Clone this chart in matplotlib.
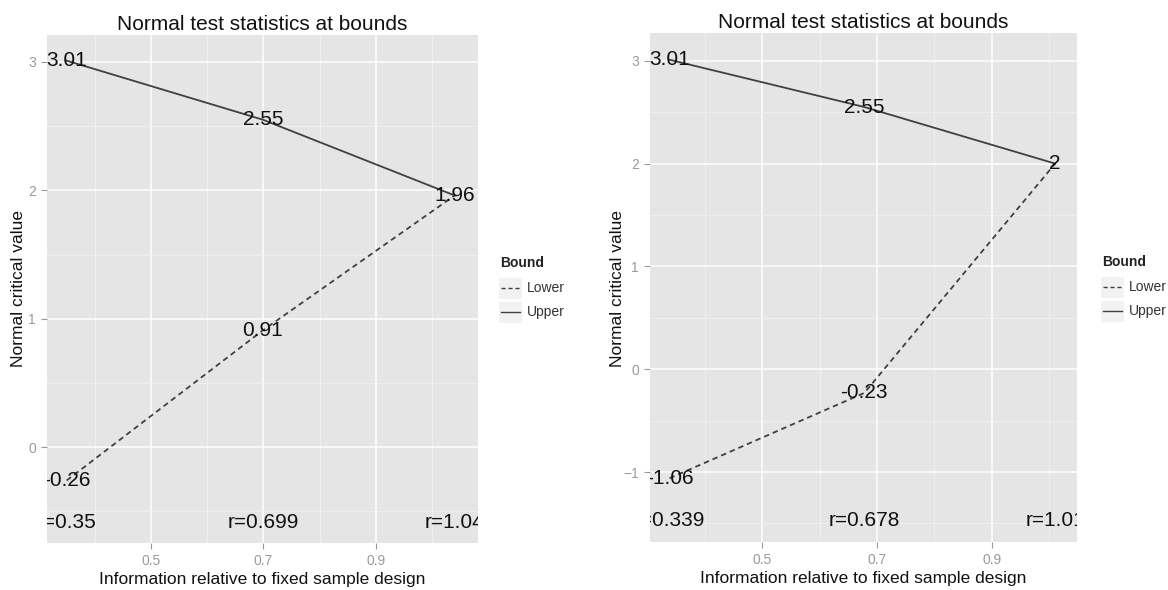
import matplotlib
matplotlib.use('Agg')
import matplotlib.pyplot as plt
from matplotlib.lines import Line2D
from matplotlib.patches import Rectangle

plt.rcParams['font.family'] = ['Liberation Sans', 'DejaVu Sans']

W, H = 1168, 590

# Left design
left_x = [0.35, 0.699, 1.04]
left_upper = [3.01, 2.55, 1.96]
left_lower = [-0.26, 0.91, 1.96]
left_r_labels = ['r=0.35', 'r=0.699', 'r=1.04']
left_upper_labels = ['3.01', '2.55', '1.96']
left_lower_labels = ['-0.26', '0.91', '1.96']
left_r_y = -0.59

# Right design
right_x = [0.339, 0.678, 1.01]
right_upper = [3.01, 2.55, 2.0]
right_lower = [-1.06, -0.23, 2.0]
right_r_labels = ['r=0.339', 'r=0.678', 'r=1.01']
right_upper_labels = ['3.01', '2.55', '2']
right_lower_labels = ['-1.06', '-0.23', '2']
right_r_y = -1.47

title = 'Normal test statistics at bounds'
xlabel = 'Information relative to fixed sample design'
ylabel = 'Normal critical value'
legend_title = 'Bound'
legend_names = ['Lower', 'Upper']

line_col = '#404040'
panel_bg = '#E5E5E5'
tick_col = '#9a9a9a'


def px(x, y):
    return x / W, 1 - y / H


def draw_panel(rect, x, upper, lower, up_lab, lo_lab, r_lab, r_y,
               xlim, ylim, yticks, yminor):
    ax = fig.add_axes(rect)
    ax.set_facecolor(panel_bg)
    for s in ax.spines.values():
        s.set_visible(False)
    ax.set_xlim(*xlim)
    ax.set_ylim(*ylim)
    ax.set_xticks([0.5, 0.7, 0.9])
    ax.set_xticks([0.4, 0.6, 0.8, 1.0], minor=True)
    ax.set_yticks(yticks)
    ax.set_yticks(yminor, minor=True)
    ax.grid(which='major', color='white', linewidth=1.1)
    ax.grid(which='minor', color='#F2F2F2', linewidth=0.6)
    ax.set_axisbelow(True)
    ax.tick_params(which='major', colors=tick_col, labelsize=10,
                   length=4, width=0.8, pad=4)
    ax.tick_params(which='minor', length=0)

    ax.plot(x, lower, color=line_col, lw=1.3, ls=(0, (3, 2.2)))
    ax.plot(x, upper, color=line_col, lw=1.3, ls='-')

    for xi, yi, t in zip(x, upper, up_lab):
        ax.text(xi, yi, t, ha='center', va='center', fontsize=15,
                color='#111111', clip_on=True)
    # lower labels (skip the last one, it coincides with the upper label)
    for xi, yi, t in zip(x[:-1], lower[:-1], lo_lab[:-1]):
        ax.text(xi, yi, t, ha='center', va='center', fontsize=15,
                color='#111111', clip_on=True)
    for xi, t in zip(x, r_lab):
        ax.text(xi, r_y, t, ha='center', va='center', fontsize=15,
                color='#111111', clip_on=True)

    ax.set_xlabel(xlabel, fontsize=12.5, color='#111111', labelpad=3)
    return ax


def draw_legend(x0, y0):
    fig.text(*px(x0, y0), legend_title, fontsize=10, fontweight='bold',
             color='#222222', ha='left', va='center')
    styles = [(0, (3, 2)), '-']
    for i, (name, ls) in enumerate(zip(legend_names, styles)):
        yc = y0 + 25 + i * 24
        fx, fy = px(x0 - 2, yc + 11)
        fig.patches.append(Rectangle((fx, fy), 24 / W, 22 / H,
                                     transform=fig.transFigure,
                                     facecolor='#F2F2F2', edgecolor='white',
                                     linewidth=0.8))
        ax0, ay = px(x0 + 1, yc)
        ax1, _ = px(x0 + 20, yc)
        fig.lines.append(Line2D([ax0, ax1], [ay, ay], transform=fig.transFigure,
                                color=line_col, lw=1.0, ls=ls))
        fig.text(*px(x0 + 27, yc), name, fontsize=10, color='#333333',
                 ha='left', va='center')


fig = plt.figure(figsize=(W / 100, H / 100), dpi=100)

axL = draw_panel([47 / W, 1 - 543 / H, 431 / W, 508 / H],
                 left_x, left_upper, left_lower,
                 left_upper_labels, left_lower_labels, left_r_labels, left_r_y,
                 (0.315, 1.0815), (-0.747, 3.21),
                 [0, 1, 2, 3], [-0.5, 0.5, 1.5, 2.5])
axR = draw_panel([650 / W, 1 - 542 / H, 427 / W, 509 / H],
                 right_x, right_upper, right_lower,
                 right_upper_labels, right_lower_labels, right_r_labels, right_r_y,
                 (0.305, 1.048), (-1.68, 3.27),
                 [-1, 0, 1, 2, 3], [-1.5, -0.5, 0.5, 1.5, 2.5])

fig.text(*px(262.5, 24), title, fontsize=15, ha='center', va='center', color='#111111')
fig.text(*px(863.5, 23), title, fontsize=15, ha='center', va='center', color='#111111')
fig.text(*px(19, 289), ylabel, fontsize=12.5, rotation=90, ha='center', va='center',
         color='#111111')
fig.text(*px(618, 288), ylabel, fontsize=12.5, rotation=90, ha='center', va='center',
         color='#111111')

draw_legend(500, 263)
draw_legend(1102, 262)

fig.savefig('out.png', dpi=100)
